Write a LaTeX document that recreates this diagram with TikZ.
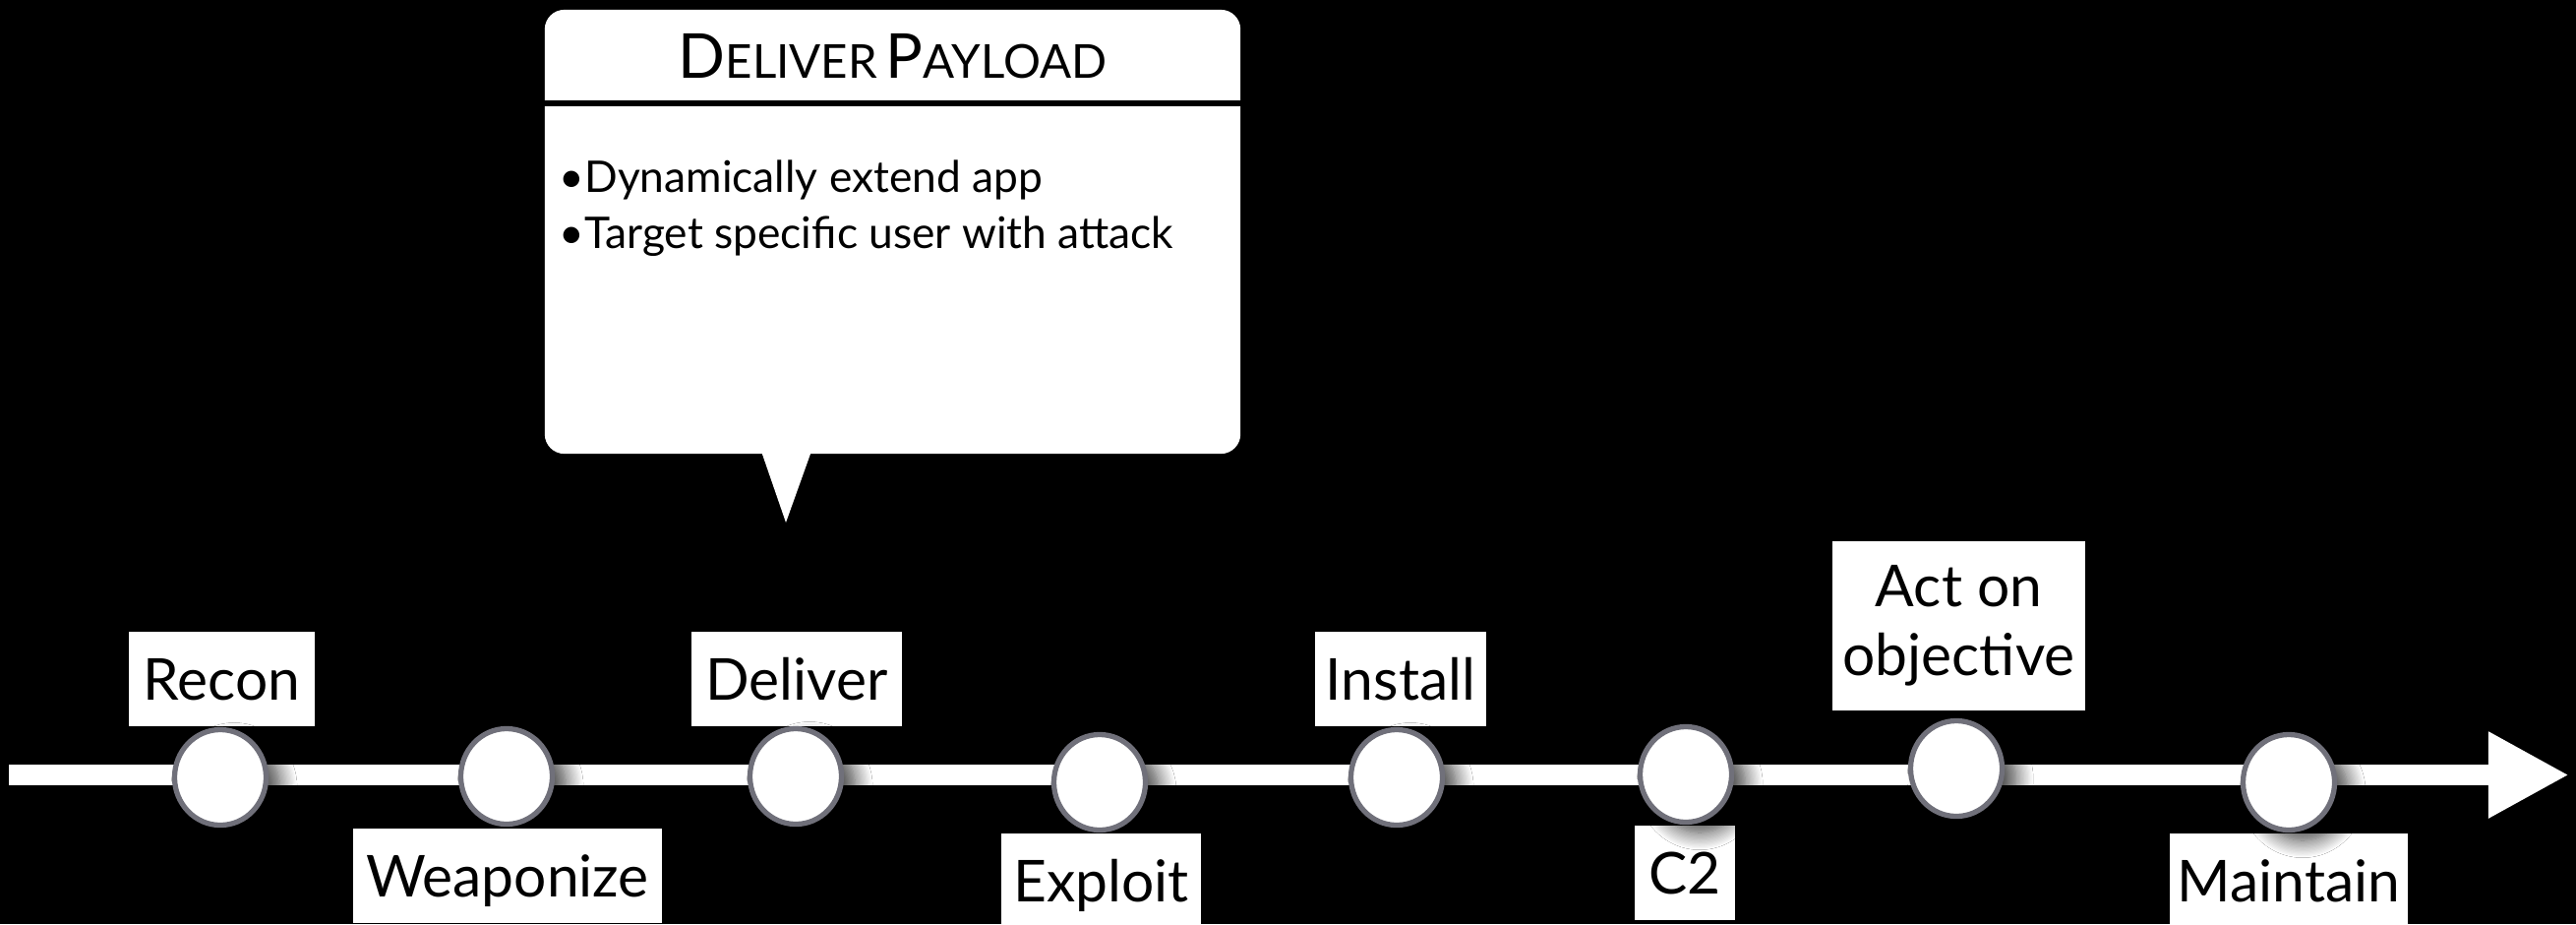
\documentclass[tikz,border=0pt]{standalone}
\usepackage{fontspec}
\setmainfont{Lato}
\usetikzlibrary{arrows.meta,shapes.geometric,shadows.blur}

\definecolor{ringgray}{RGB}{112,112,122}

\newcommand{\labelfont}{\fontsize{16.7}{20}\selectfont}
\newcommand{\bulletfont}{\fontsize{12.6}{16}\selectfont}
\newcommand{\capbig}[1]{{\fontsize{17.9}{20}\selectfont #1}}
\newcommand{\capsmall}[1]{{\fontsize{13.5}{16}\selectfont #1}}

\tikzset{
  stagelabel/.style={fill=white, inner sep=0pt, minimum height=0.96cm,
    font=\labelfont, text=black, text height=12pt, text depth=0pt},
  stagedot/.style={ellipse, draw=ringgray, line width=1.5pt,
    minimum width=0.93cm, minimum height=0.97cm, inner sep=0pt,
    fill=white,
    blur shadow={shadow xshift=4pt, shadow yshift=-3pt,
      shadow blur radius=5pt, shadow blur steps=14, shadow opacity=75}},
  timeline/.style={white, line width=0.21cm,
    -{Triangle[length=0.82cm, width=0.82cm]}},
  calloutbox/.style={fill=white, rounded corners=0.2cm, inner sep=0pt,
    minimum width=7.07cm, minimum height=4.51cm}
}

\begin{document}
\begin{tikzpicture}[x=0.01cm, y=-0.01cm]
\useasboundingbox (0,0) rectangle (2619,939);
\fill[black] (0,0) rectangle (2619,939);

% timeline bar with its arrow head
\coordinate (barstart) at (9,787.5);
\coordinate (barend) at (2612,787.5);
\draw[timeline] (barstart) -- (barend);

% labels sitting above the bar, and the ones under C2 and Maintain
\node[stagelabel, minimum width=1.89cm] (lrecon) at (225.5,690) {Recon};
\node[stagelabel, minimum width=2.14cm] (ldeliver) at (810,690) {Deliver};
\node[stagelabel, minimum width=1.74cm] (linstall) at (1424,690) {Install};
\node[fill=white, inner sep=0pt, font=\labelfont, align=center,
      minimum width=2.57cm, minimum height=1.71cm] (lact) at (1991.5,636) {Act on\\objective};
\node[stagelabel, minimum width=1.02cm] (lctwo) at (1713,887) {C2};
\node[stagelabel, minimum width=2.42cm] (lmaintain) at (2327,895) {Maintain};

% stage markers on the bar
\node[stagedot] (crecon) at (224,790) {};
\node[stagedot] (cweapon) at (515,789) {};
\node[stagedot] (cdeliver) at (809,789) {};
\node[stagedot] (cexploit) at (1118,795) {};
\node[stagedot] (cinstall) at (1420,790) {};
\node[stagedot] (cctwo) at (1714,787) {};
\node[stagedot] (cact) at (1989,781) {};
\node[stagedot] (cmaintain) at (2327,795) {};

% labels under the bar drawn over the marker shadows
\node[stagelabel, minimum width=3.14cm] (lweapon) at (516,890) {Weaponize};
\node[stagelabel, minimum width=2.03cm] (lexploit) at (1119.5,895) {Exploit};

% speech bubble for the deliver stage
\node[calloutbox] (callout) at (907.5,235.5) {};
\coordinate (tailtip) at (799,531);
\fill[white] (771,450) -- (tailtip) -- (828,450) -- cycle;
\coordinate (hdr) at (0,105);
\draw[black, line width=0.055cm] (callout.west |- hdr) -- (callout.east |- hdr);
\node[anchor=base, inner sep=0pt] (title) at (907.5,79)
  {\capbig{D}\capsmall{ELIVER} \capbig{P}\capsmall{AYLOAD}};
\node[anchor=base west, inner sep=0pt, font=\bulletfont] (bone) at (568,195)
  {•Dynamically extend app};
\node[anchor=base west, inner sep=0pt, font=\bulletfont] (btwo) at (568,252)
  {•Target specific user with attack};
\end{tikzpicture}
\end{document}
